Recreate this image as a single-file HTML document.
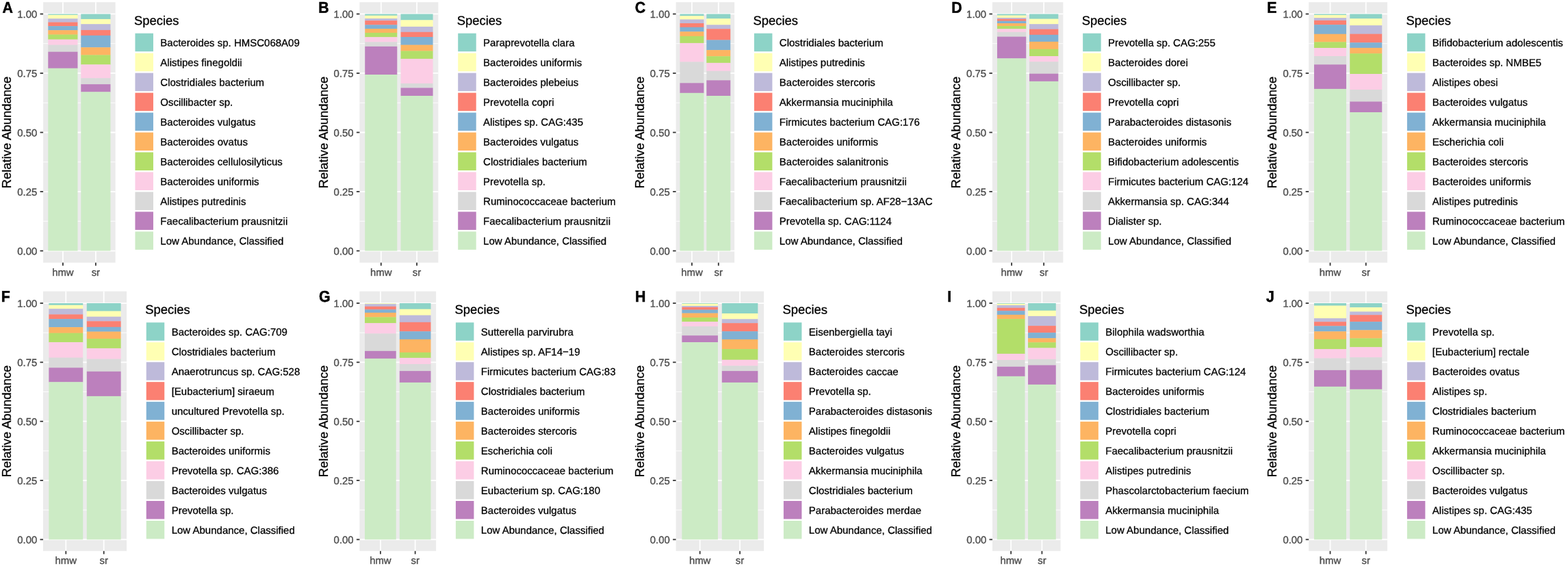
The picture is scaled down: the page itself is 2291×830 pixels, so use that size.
<!DOCTYPE html>
<html lang="en"><head><meta charset="utf-8"><title>Relative Abundance by Species</title>
<style>html,body{margin:0;padding:0;background:#fff}body{width:2291px;height:830px;overflow:hidden}svg{display:block}text{font-family:"Liberation Sans",Arial,Helvetica,sans-serif}.ax{font-size:14.9px;fill:#4D4D4D;stroke:#4D4D4D;stroke-width:0.35px}.tt{font-size:18.4px;fill:#000;stroke:#000;stroke-width:0.3px}.tg{font-size:23.0px;font-weight:bold;fill:#000;stroke:#000;stroke-width:0.5px}.lg{font-size:15.0px;fill:#000;stroke:#000;stroke-width:0.3px}.gM{stroke:#fff;stroke-width:1.78}.gm{stroke:#fff;stroke-width:0.89}.tk{stroke:#333;stroke-width:1.78}</style></head><body>
<svg width="2291" height="830" viewBox="0 0 2291 830">
<rect width="2291" height="830" fill="#fff"/>
<g id="panel-A">
<rect x="63.1" y="3.2" width="105.55" height="380.6" fill="#EBEBEB"/>
<line class="gm" x1="63.1" x2="168.65" y1="323.29" y2="323.29"/>
<line class="gm" x1="63.1" x2="168.65" y1="236.76" y2="236.76"/>
<line class="gm" x1="63.1" x2="168.65" y1="150.24" y2="150.24"/>
<line class="gm" x1="63.1" x2="168.65" y1="63.71" y2="63.71"/>
<line class="gM" x1="63.1" x2="168.65" y1="366.55" y2="366.55"/>
<line class="gM" x1="63.1" x2="168.65" y1="280.02" y2="280.02"/>
<line class="gM" x1="63.1" x2="168.65" y1="193.5" y2="193.5"/>
<line class="gM" x1="63.1" x2="168.65" y1="106.97" y2="106.97"/>
<line class="gM" x1="63.1" x2="168.65" y1="20.45" y2="20.45"/>
<line class="gM" x1="91.89" x2="91.89" y1="3.2" y2="383.8"/>
<line class="gM" x1="139.86" x2="139.86" y1="3.2" y2="383.8"/>
<rect x="70.3" y="20.45" width="43.18" height="1.65" fill="#8DD3C7"/>
<rect x="70.3" y="21.8" width="43.18" height="5.7" fill="#FFFFB3"/>
<rect x="70.3" y="27.2" width="43.18" height="5.6" fill="#BEBADA"/>
<rect x="70.3" y="32.5" width="43.18" height="5.9" fill="#FB8072"/>
<rect x="70.3" y="38.1" width="43.18" height="6.3" fill="#80B1D3"/>
<rect x="70.3" y="44.1" width="43.18" height="6.7" fill="#FDB462"/>
<rect x="70.3" y="50.5" width="43.18" height="7.4" fill="#B3DE69"/>
<rect x="70.3" y="57.6" width="43.18" height="8.3" fill="#FCCDE5"/>
<rect x="70.3" y="65.6" width="43.18" height="10.4" fill="#D9D9D9"/>
<rect x="70.3" y="75.7" width="43.18" height="24.3" fill="#BC80BD"/>
<rect x="70.3" y="99.7" width="43.18" height="266.85" fill="#CCEBC5"/>
<rect x="118.27" y="20.45" width="43.18" height="7.75" fill="#8DD3C7"/>
<rect x="118.27" y="27.9" width="43.18" height="7.6" fill="#FFFFB3"/>
<rect x="118.27" y="35.2" width="43.18" height="9" fill="#BEBADA"/>
<rect x="118.27" y="43.9" width="43.18" height="8.2" fill="#FB8072"/>
<rect x="118.27" y="51.8" width="43.18" height="17.7" fill="#80B1D3"/>
<rect x="118.27" y="69.2" width="43.18" height="11.5" fill="#FDB462"/>
<rect x="118.27" y="80.4" width="43.18" height="14.2" fill="#B3DE69"/>
<rect x="118.27" y="94.3" width="43.18" height="20.2" fill="#FCCDE5"/>
<rect x="118.27" y="114.2" width="43.18" height="9.2" fill="#D9D9D9"/>
<rect x="118.27" y="123.1" width="43.18" height="11.5" fill="#BC80BD"/>
<rect x="118.27" y="134.3" width="43.18" height="232.25" fill="#CCEBC5"/>
<line class="tk" x1="58.6" x2="63.1" y1="366.55" y2="366.55"/>
<text class="ax" text-anchor="end" transform="matrix(1,0.0005,0,1,54.3,372.2)">0.00</text>
<line class="tk" x1="58.6" x2="63.1" y1="280.02" y2="280.02"/>
<text class="ax" text-anchor="end" transform="matrix(1,0.0005,0,1,54.3,285.67)">0.25</text>
<line class="tk" x1="58.6" x2="63.1" y1="193.5" y2="193.5"/>
<text class="ax" text-anchor="end" transform="matrix(1,0.0005,0,1,54.3,199.15)">0.50</text>
<line class="tk" x1="58.6" x2="63.1" y1="106.97" y2="106.97"/>
<text class="ax" text-anchor="end" transform="matrix(1,0.0005,0,1,54.3,112.62)">0.75</text>
<line class="tk" x1="58.6" x2="63.1" y1="20.45" y2="20.45"/>
<text class="ax" text-anchor="end" transform="matrix(1,0.0005,0,1,54.3,26.1)">1.00</text>
<line class="tk" x1="91.89" x2="91.89" y1="383.8" y2="388.3"/>
<text class="ax" text-anchor="middle" transform="matrix(1,0.0005,0,1,91.89,403.1)">hmw</text>
<line class="tk" x1="139.86" x2="139.86" y1="383.8" y2="388.3"/>
<text class="ax" text-anchor="middle" transform="matrix(1,0.0005,0,1,139.86,403.1)">sr</text>
<text class="tt" text-anchor="middle" transform="translate(16.3,193.5) rotate(-90)">Relative Abundance</text>
<text class="tg" transform="matrix(0.93,0.0005,0,1,3.38,18.8)">A</text>
<text class="tt" transform="matrix(1,0.0005,0,1,196.05,36.3)">Species</text>
<rect x="197.45" y="48.7" width="26.5" height="26.5" fill="#8DD3C7"/>
<text class="lg" transform="matrix(1,0.0005,0,1,234.35,67.6)">Bacteroides sp. HMSC068A09</text>
<rect x="197.45" y="77.67" width="26.5" height="26.5" fill="#FFFFB3"/>
<text class="lg" transform="matrix(1,0.0005,0,1,234.35,96.57)">Alistipes finegoldii</text>
<rect x="197.45" y="106.64" width="26.5" height="26.5" fill="#BEBADA"/>
<text class="lg" transform="matrix(1,0.0005,0,1,234.35,125.54)">Clostridiales bacterium</text>
<rect x="197.45" y="135.61" width="26.5" height="26.5" fill="#FB8072"/>
<text class="lg" transform="matrix(1,0.0005,0,1,234.35,154.51)">Oscillibacter sp.</text>
<rect x="197.45" y="164.58" width="26.5" height="26.5" fill="#80B1D3"/>
<text class="lg" transform="matrix(1,0.0005,0,1,234.35,183.48)">Bacteroides vulgatus</text>
<rect x="197.45" y="193.55" width="26.5" height="26.5" fill="#FDB462"/>
<text class="lg" transform="matrix(1,0.0005,0,1,234.35,212.45)">Bacteroides ovatus</text>
<rect x="197.45" y="222.52" width="26.5" height="26.5" fill="#B3DE69"/>
<text class="lg" transform="matrix(1,0.0005,0,1,234.35,241.42)">Bacteroides cellulosilyticus</text>
<rect x="197.45" y="251.49" width="26.5" height="26.5" fill="#FCCDE5"/>
<text class="lg" transform="matrix(1,0.0005,0,1,234.35,270.39)">Bacteroides uniformis</text>
<rect x="197.45" y="280.46" width="26.5" height="26.5" fill="#D9D9D9"/>
<text class="lg" transform="matrix(1,0.0005,0,1,234.35,299.36)">Alistipes putredinis</text>
<rect x="197.45" y="309.43" width="26.5" height="26.5" fill="#BC80BD"/>
<text class="lg" transform="matrix(1,0.0005,0,1,234.35,328.33)">Faecalibacterium prausnitzii</text>
<rect x="197.45" y="338.4" width="26.5" height="26.5" fill="#CCEBC5"/>
<text class="lg" transform="matrix(1,0.0005,0,1,234.35,357.3)">Low Abundance, Classified</text>
</g>
<g id="panel-B">
<rect x="525.4" y="3.2" width="115" height="380.6" fill="#EBEBEB"/>
<line class="gm" x1="525.4" x2="640.4" y1="323.29" y2="323.29"/>
<line class="gm" x1="525.4" x2="640.4" y1="236.76" y2="236.76"/>
<line class="gm" x1="525.4" x2="640.4" y1="150.24" y2="150.24"/>
<line class="gm" x1="525.4" x2="640.4" y1="63.71" y2="63.71"/>
<line class="gM" x1="525.4" x2="640.4" y1="366.55" y2="366.55"/>
<line class="gM" x1="525.4" x2="640.4" y1="280.02" y2="280.02"/>
<line class="gM" x1="525.4" x2="640.4" y1="193.5" y2="193.5"/>
<line class="gM" x1="525.4" x2="640.4" y1="106.97" y2="106.97"/>
<line class="gM" x1="525.4" x2="640.4" y1="20.45" y2="20.45"/>
<line class="gM" x1="556.76" x2="556.76" y1="3.2" y2="383.8"/>
<line class="gM" x1="609.04" x2="609.04" y1="3.2" y2="383.8"/>
<rect x="533.24" y="20.45" width="47.05" height="2.55" fill="#8DD3C7"/>
<rect x="533.24" y="22.7" width="47.05" height="4.6" fill="#FFFFB3"/>
<rect x="533.24" y="27" width="47.05" height="3.4" fill="#BEBADA"/>
<rect x="533.24" y="30.1" width="47.05" height="6.5" fill="#FB8072"/>
<rect x="533.24" y="36.3" width="47.05" height="6" fill="#80B1D3"/>
<rect x="533.24" y="42" width="47.05" height="6.2" fill="#FDB462"/>
<rect x="533.24" y="47.9" width="47.05" height="6.6" fill="#B3DE69"/>
<rect x="533.24" y="54.2" width="47.05" height="7.45" fill="#FCCDE5"/>
<rect x="533.24" y="61.35" width="47.05" height="6.85" fill="#D9D9D9"/>
<rect x="533.24" y="67.9" width="47.05" height="41.4" fill="#BC80BD"/>
<rect x="533.24" y="109" width="47.05" height="257.55" fill="#CCEBC5"/>
<rect x="585.51" y="20.45" width="47.05" height="9.15" fill="#8DD3C7"/>
<rect x="585.51" y="29.3" width="47.05" height="9.9" fill="#FFFFB3"/>
<rect x="585.51" y="38.9" width="47.05" height="8.2" fill="#BEBADA"/>
<rect x="585.51" y="46.8" width="47.05" height="7.5" fill="#FB8072"/>
<rect x="585.51" y="54" width="47.05" height="11.9" fill="#80B1D3"/>
<rect x="585.51" y="65.6" width="47.05" height="9.1" fill="#FDB462"/>
<rect x="585.51" y="74.4" width="47.05" height="11.8" fill="#B3DE69"/>
<rect x="585.51" y="85.9" width="47.05" height="36.3" fill="#FCCDE5"/>
<rect x="585.51" y="121.9" width="47.05" height="6.8" fill="#D9D9D9"/>
<rect x="585.51" y="128.4" width="47.05" height="11.9" fill="#BC80BD"/>
<rect x="585.51" y="140" width="47.05" height="226.55" fill="#CCEBC5"/>
<line class="tk" x1="520.9" x2="525.4" y1="366.55" y2="366.55"/>
<text class="ax" text-anchor="end" transform="matrix(1,0.0005,0,1,516.6,372.2)">0.00</text>
<line class="tk" x1="520.9" x2="525.4" y1="280.02" y2="280.02"/>
<text class="ax" text-anchor="end" transform="matrix(1,0.0005,0,1,516.6,285.67)">0.25</text>
<line class="tk" x1="520.9" x2="525.4" y1="193.5" y2="193.5"/>
<text class="ax" text-anchor="end" transform="matrix(1,0.0005,0,1,516.6,199.15)">0.50</text>
<line class="tk" x1="520.9" x2="525.4" y1="106.97" y2="106.97"/>
<text class="ax" text-anchor="end" transform="matrix(1,0.0005,0,1,516.6,112.62)">0.75</text>
<line class="tk" x1="520.9" x2="525.4" y1="20.45" y2="20.45"/>
<text class="ax" text-anchor="end" transform="matrix(1,0.0005,0,1,516.6,26.1)">1.00</text>
<line class="tk" x1="556.76" x2="556.76" y1="383.8" y2="388.3"/>
<text class="ax" text-anchor="middle" transform="matrix(1,0.0005,0,1,556.76,403.1)">hmw</text>
<line class="tk" x1="609.04" x2="609.04" y1="383.8" y2="388.3"/>
<text class="ax" text-anchor="middle" transform="matrix(1,0.0005,0,1,609.04,403.1)">sr</text>
<text class="tt" text-anchor="middle" transform="translate(478.6,193.5) rotate(-90)">Relative Abundance</text>
<text class="tg" transform="matrix(0.93,0.0005,0,1,465.33,18.8)">B</text>
<text class="tt" transform="matrix(1,0.0005,0,1,667.8,36.3)">Species</text>
<rect x="669.2" y="48.7" width="26.5" height="26.5" fill="#8DD3C7"/>
<text class="lg" transform="matrix(1,0.0005,0,1,706.1,67.6)">Paraprevotella clara</text>
<rect x="669.2" y="77.67" width="26.5" height="26.5" fill="#FFFFB3"/>
<text class="lg" transform="matrix(1,0.0005,0,1,706.1,96.57)">Bacteroides uniformis</text>
<rect x="669.2" y="106.64" width="26.5" height="26.5" fill="#BEBADA"/>
<text class="lg" transform="matrix(1,0.0005,0,1,706.1,125.54)">Bacteroides plebeius</text>
<rect x="669.2" y="135.61" width="26.5" height="26.5" fill="#FB8072"/>
<text class="lg" transform="matrix(1,0.0005,0,1,706.1,154.51)">Prevotella copri</text>
<rect x="669.2" y="164.58" width="26.5" height="26.5" fill="#80B1D3"/>
<text class="lg" transform="matrix(1,0.0005,0,1,706.1,183.48)">Alistipes sp. CAG:435</text>
<rect x="669.2" y="193.55" width="26.5" height="26.5" fill="#FDB462"/>
<text class="lg" transform="matrix(1,0.0005,0,1,706.1,212.45)">Bacteroides vulgatus</text>
<rect x="669.2" y="222.52" width="26.5" height="26.5" fill="#B3DE69"/>
<text class="lg" transform="matrix(1,0.0005,0,1,706.1,241.42)">Clostridiales bacterium</text>
<rect x="669.2" y="251.49" width="26.5" height="26.5" fill="#FCCDE5"/>
<text class="lg" transform="matrix(1,0.0005,0,1,706.1,270.39)">Prevotella sp.</text>
<rect x="669.2" y="280.46" width="26.5" height="26.5" fill="#D9D9D9"/>
<text class="lg" transform="matrix(1,0.0005,0,1,706.1,299.36)">Ruminococcaceae bacterium</text>
<rect x="669.2" y="309.43" width="26.5" height="26.5" fill="#BC80BD"/>
<text class="lg" transform="matrix(1,0.0005,0,1,706.1,328.33)">Faecalibacterium prausnitzii</text>
<rect x="669.2" y="338.4" width="26.5" height="26.5" fill="#CCEBC5"/>
<text class="lg" transform="matrix(1,0.0005,0,1,706.1,357.3)">Low Abundance, Classified</text>
</g>
<g id="panel-C">
<rect x="987.6" y="3.2" width="85.5" height="380.6" fill="#EBEBEB"/>
<line class="gm" x1="987.6" x2="1073.1" y1="323.29" y2="323.29"/>
<line class="gm" x1="987.6" x2="1073.1" y1="236.76" y2="236.76"/>
<line class="gm" x1="987.6" x2="1073.1" y1="150.24" y2="150.24"/>
<line class="gm" x1="987.6" x2="1073.1" y1="63.71" y2="63.71"/>
<line class="gM" x1="987.6" x2="1073.1" y1="366.55" y2="366.55"/>
<line class="gM" x1="987.6" x2="1073.1" y1="280.02" y2="280.02"/>
<line class="gM" x1="987.6" x2="1073.1" y1="193.5" y2="193.5"/>
<line class="gM" x1="987.6" x2="1073.1" y1="106.97" y2="106.97"/>
<line class="gM" x1="987.6" x2="1073.1" y1="20.45" y2="20.45"/>
<line class="gM" x1="1010.92" x2="1010.92" y1="3.2" y2="383.8"/>
<line class="gM" x1="1049.78" x2="1049.78" y1="3.2" y2="383.8"/>
<rect x="993.43" y="20.45" width="34.98" height="3.15" fill="#8DD3C7"/>
<rect x="993.43" y="23.3" width="34.98" height="5.4" fill="#FFFFB3"/>
<rect x="993.43" y="28.4" width="34.98" height="5.9" fill="#BEBADA"/>
<rect x="993.43" y="34" width="34.98" height="6" fill="#FB8072"/>
<rect x="993.43" y="39.7" width="34.98" height="6.8" fill="#80B1D3"/>
<rect x="993.43" y="46.2" width="34.98" height="6.9" fill="#FDB462"/>
<rect x="993.43" y="52.8" width="34.98" height="10.4" fill="#B3DE69"/>
<rect x="993.43" y="62.9" width="34.98" height="27.8" fill="#FCCDE5"/>
<rect x="993.43" y="90.4" width="34.98" height="31.2" fill="#D9D9D9"/>
<rect x="993.43" y="121.3" width="34.98" height="14.8" fill="#BC80BD"/>
<rect x="993.43" y="135.8" width="34.98" height="230.75" fill="#CCEBC5"/>
<rect x="1032.29" y="20.45" width="34.98" height="7.05" fill="#8DD3C7"/>
<rect x="1032.29" y="27.2" width="34.98" height="9.4" fill="#FFFFB3"/>
<rect x="1032.29" y="36.3" width="34.98" height="6.2" fill="#BEBADA"/>
<rect x="1032.29" y="42.2" width="34.98" height="16.5" fill="#FB8072"/>
<rect x="1032.29" y="58.4" width="34.98" height="15" fill="#80B1D3"/>
<rect x="1032.29" y="73.1" width="34.98" height="9.4" fill="#FDB462"/>
<rect x="1032.29" y="82.2" width="34.98" height="9.95" fill="#B3DE69"/>
<rect x="1032.29" y="91.85" width="34.98" height="12.15" fill="#FCCDE5"/>
<rect x="1032.29" y="103.7" width="34.98" height="13.9" fill="#D9D9D9"/>
<rect x="1032.29" y="117.3" width="34.98" height="23" fill="#BC80BD"/>
<rect x="1032.29" y="140" width="34.98" height="226.55" fill="#CCEBC5"/>
<line class="tk" x1="983.1" x2="987.6" y1="366.55" y2="366.55"/>
<text class="ax" text-anchor="end" transform="matrix(1,0.0005,0,1,978.8,372.2)">0.00</text>
<line class="tk" x1="983.1" x2="987.6" y1="280.02" y2="280.02"/>
<text class="ax" text-anchor="end" transform="matrix(1,0.0005,0,1,978.8,285.67)">0.25</text>
<line class="tk" x1="983.1" x2="987.6" y1="193.5" y2="193.5"/>
<text class="ax" text-anchor="end" transform="matrix(1,0.0005,0,1,978.8,199.15)">0.50</text>
<line class="tk" x1="983.1" x2="987.6" y1="106.97" y2="106.97"/>
<text class="ax" text-anchor="end" transform="matrix(1,0.0005,0,1,978.8,112.62)">0.75</text>
<line class="tk" x1="983.1" x2="987.6" y1="20.45" y2="20.45"/>
<text class="ax" text-anchor="end" transform="matrix(1,0.0005,0,1,978.8,26.1)">1.00</text>
<line class="tk" x1="1010.92" x2="1010.92" y1="383.8" y2="388.3"/>
<text class="ax" text-anchor="middle" transform="matrix(1,0.0005,0,1,1010.92,403.1)">hmw</text>
<line class="tk" x1="1049.78" x2="1049.78" y1="383.8" y2="388.3"/>
<text class="ax" text-anchor="middle" transform="matrix(1,0.0005,0,1,1049.78,403.1)">sr</text>
<text class="tt" text-anchor="middle" transform="translate(940.8,193.5) rotate(-90)">Relative Abundance</text>
<text class="tg" transform="matrix(0.93,0.0005,0,1,927.68,18.8)">C</text>
<text class="tt" transform="matrix(1,0.0005,0,1,1100.5,36.3)">Species</text>
<rect x="1101.9" y="48.7" width="26.5" height="26.5" fill="#8DD3C7"/>
<text class="lg" transform="matrix(1,0.0005,0,1,1138.8,67.6)">Clostridiales bacterium</text>
<rect x="1101.9" y="77.67" width="26.5" height="26.5" fill="#FFFFB3"/>
<text class="lg" transform="matrix(1,0.0005,0,1,1138.8,96.57)">Alistipes putredinis</text>
<rect x="1101.9" y="106.64" width="26.5" height="26.5" fill="#BEBADA"/>
<text class="lg" transform="matrix(1,0.0005,0,1,1138.8,125.54)">Bacteroides stercoris</text>
<rect x="1101.9" y="135.61" width="26.5" height="26.5" fill="#FB8072"/>
<text class="lg" transform="matrix(1,0.0005,0,1,1138.8,154.51)">Akkermansia muciniphila</text>
<rect x="1101.9" y="164.58" width="26.5" height="26.5" fill="#80B1D3"/>
<text class="lg" transform="matrix(1,0.0005,0,1,1138.8,183.48)">Firmicutes bacterium CAG:176</text>
<rect x="1101.9" y="193.55" width="26.5" height="26.5" fill="#FDB462"/>
<text class="lg" transform="matrix(1,0.0005,0,1,1138.8,212.45)">Bacteroides uniformis</text>
<rect x="1101.9" y="222.52" width="26.5" height="26.5" fill="#B3DE69"/>
<text class="lg" transform="matrix(1,0.0005,0,1,1138.8,241.42)">Bacteroides salanitronis</text>
<rect x="1101.9" y="251.49" width="26.5" height="26.5" fill="#FCCDE5"/>
<text class="lg" transform="matrix(1,0.0005,0,1,1138.8,270.39)">Faecalibacterium prausnitzii</text>
<rect x="1101.9" y="280.46" width="26.5" height="26.5" fill="#D9D9D9"/>
<text class="lg" transform="matrix(1,0.0005,0,1,1138.8,299.36)">Faecalibacterium sp. AF28−13AC</text>
<rect x="1101.9" y="309.43" width="26.5" height="26.5" fill="#BC80BD"/>
<text class="lg" transform="matrix(1,0.0005,0,1,1138.8,328.33)">Prevotella sp. CAG:1124</text>
<rect x="1101.9" y="338.4" width="26.5" height="26.5" fill="#CCEBC5"/>
<text class="lg" transform="matrix(1,0.0005,0,1,1138.8,357.3)">Low Abundance, Classified</text>
</g>
<g id="panel-D">
<rect x="1449.9" y="3.2" width="103.45" height="380.6" fill="#EBEBEB"/>
<line class="gm" x1="1449.9" x2="1553.35" y1="323.29" y2="323.29"/>
<line class="gm" x1="1449.9" x2="1553.35" y1="236.76" y2="236.76"/>
<line class="gm" x1="1449.9" x2="1553.35" y1="150.24" y2="150.24"/>
<line class="gm" x1="1449.9" x2="1553.35" y1="63.71" y2="63.71"/>
<line class="gM" x1="1449.9" x2="1553.35" y1="366.55" y2="366.55"/>
<line class="gM" x1="1449.9" x2="1553.35" y1="280.02" y2="280.02"/>
<line class="gM" x1="1449.9" x2="1553.35" y1="193.5" y2="193.5"/>
<line class="gM" x1="1449.9" x2="1553.35" y1="106.97" y2="106.97"/>
<line class="gM" x1="1449.9" x2="1553.35" y1="20.45" y2="20.45"/>
<line class="gM" x1="1478.11" x2="1478.11" y1="3.2" y2="383.8"/>
<line class="gM" x1="1525.14" x2="1525.14" y1="3.2" y2="383.8"/>
<rect x="1456.95" y="20.45" width="42.32" height="2.35" fill="#8DD3C7"/>
<rect x="1456.95" y="22.5" width="42.32" height="3.7" fill="#FFFFB3"/>
<rect x="1456.95" y="25.9" width="42.32" height="2.2" fill="#BEBADA"/>
<rect x="1456.95" y="27.8" width="42.32" height="3.1" fill="#FB8072"/>
<rect x="1456.95" y="30.6" width="42.32" height="3.7" fill="#80B1D3"/>
<rect x="1456.95" y="34" width="42.32" height="4.3" fill="#FDB462"/>
<rect x="1456.95" y="38" width="42.32" height="4.5" fill="#B3DE69"/>
<rect x="1456.95" y="42.2" width="42.32" height="4.9" fill="#FCCDE5"/>
<rect x="1456.95" y="46.8" width="42.32" height="7.1" fill="#D9D9D9"/>
<rect x="1456.95" y="53.6" width="42.32" height="32" fill="#BC80BD"/>
<rect x="1456.95" y="85.3" width="42.32" height="281.25" fill="#CCEBC5"/>
<rect x="1503.98" y="20.45" width="42.32" height="7.45" fill="#8DD3C7"/>
<rect x="1503.98" y="27.6" width="42.32" height="7.9" fill="#FFFFB3"/>
<rect x="1503.98" y="35.2" width="42.32" height="7.7" fill="#BEBADA"/>
<rect x="1503.98" y="42.6" width="42.32" height="8.5" fill="#FB8072"/>
<rect x="1503.98" y="50.8" width="42.32" height="10.4" fill="#80B1D3"/>
<rect x="1503.98" y="60.9" width="42.32" height="11.2" fill="#FDB462"/>
<rect x="1503.98" y="71.8" width="42.32" height="10.5" fill="#B3DE69"/>
<rect x="1503.98" y="82" width="42.32" height="8.45" fill="#FCCDE5"/>
<rect x="1503.98" y="90.15" width="42.32" height="17.85" fill="#D9D9D9"/>
<rect x="1503.98" y="107.7" width="42.32" height="11.4" fill="#BC80BD"/>
<rect x="1503.98" y="118.8" width="42.32" height="247.75" fill="#CCEBC5"/>
<line class="tk" x1="1445.4" x2="1449.9" y1="366.55" y2="366.55"/>
<text class="ax" text-anchor="end" transform="matrix(1,0.0005,0,1,1441.1,372.2)">0.00</text>
<line class="tk" x1="1445.4" x2="1449.9" y1="280.02" y2="280.02"/>
<text class="ax" text-anchor="end" transform="matrix(1,0.0005,0,1,1441.1,285.67)">0.25</text>
<line class="tk" x1="1445.4" x2="1449.9" y1="193.5" y2="193.5"/>
<text class="ax" text-anchor="end" transform="matrix(1,0.0005,0,1,1441.1,199.15)">0.50</text>
<line class="tk" x1="1445.4" x2="1449.9" y1="106.97" y2="106.97"/>
<text class="ax" text-anchor="end" transform="matrix(1,0.0005,0,1,1441.1,112.62)">0.75</text>
<line class="tk" x1="1445.4" x2="1449.9" y1="20.45" y2="20.45"/>
<text class="ax" text-anchor="end" transform="matrix(1,0.0005,0,1,1441.1,26.1)">1.00</text>
<line class="tk" x1="1478.11" x2="1478.11" y1="383.8" y2="388.3"/>
<text class="ax" text-anchor="middle" transform="matrix(1,0.0005,0,1,1478.11,403.1)">hmw</text>
<line class="tk" x1="1525.14" x2="1525.14" y1="383.8" y2="388.3"/>
<text class="ax" text-anchor="middle" transform="matrix(1,0.0005,0,1,1525.14,403.1)">sr</text>
<text class="tt" text-anchor="middle" transform="translate(1403.1,193.5) rotate(-90)">Relative Abundance</text>
<text class="tg" transform="matrix(0.93,0.0005,0,1,1390.26,18.8)">D</text>
<text class="tt" transform="matrix(1,0.0005,0,1,1580.75,36.3)">Species</text>
<rect x="1582.15" y="48.7" width="26.5" height="26.5" fill="#8DD3C7"/>
<text class="lg" transform="matrix(1,0.0005,0,1,1619.05,67.6)">Prevotella sp. CAG:255</text>
<rect x="1582.15" y="77.67" width="26.5" height="26.5" fill="#FFFFB3"/>
<text class="lg" transform="matrix(1,0.0005,0,1,1619.05,96.57)">Bacteroides dorei</text>
<rect x="1582.15" y="106.64" width="26.5" height="26.5" fill="#BEBADA"/>
<text class="lg" transform="matrix(1,0.0005,0,1,1619.05,125.54)">Oscillibacter sp.</text>
<rect x="1582.15" y="135.61" width="26.5" height="26.5" fill="#FB8072"/>
<text class="lg" transform="matrix(1,0.0005,0,1,1619.05,154.51)">Prevotella copri</text>
<rect x="1582.15" y="164.58" width="26.5" height="26.5" fill="#80B1D3"/>
<text class="lg" transform="matrix(1,0.0005,0,1,1619.05,183.48)">Parabacteroides distasonis</text>
<rect x="1582.15" y="193.55" width="26.5" height="26.5" fill="#FDB462"/>
<text class="lg" transform="matrix(1,0.0005,0,1,1619.05,212.45)">Bacteroides uniformis</text>
<rect x="1582.15" y="222.52" width="26.5" height="26.5" fill="#B3DE69"/>
<text class="lg" transform="matrix(1,0.0005,0,1,1619.05,241.42)">Bifidobacterium adolescentis</text>
<rect x="1582.15" y="251.49" width="26.5" height="26.5" fill="#FCCDE5"/>
<text class="lg" transform="matrix(1,0.0005,0,1,1619.05,270.39)">Firmicutes bacterium CAG:124</text>
<rect x="1582.15" y="280.46" width="26.5" height="26.5" fill="#D9D9D9"/>
<text class="lg" transform="matrix(1,0.0005,0,1,1619.05,299.36)">Akkermansia sp. CAG:344</text>
<rect x="1582.15" y="309.43" width="26.5" height="26.5" fill="#BC80BD"/>
<text class="lg" transform="matrix(1,0.0005,0,1,1619.05,328.33)">Dialister sp.</text>
<rect x="1582.15" y="338.4" width="26.5" height="26.5" fill="#CCEBC5"/>
<text class="lg" transform="matrix(1,0.0005,0,1,1619.05,357.3)">Low Abundance, Classified</text>
</g>
<g id="panel-E">
<rect x="1912.2" y="3.2" width="114.9" height="380.6" fill="#EBEBEB"/>
<line class="gm" x1="1912.2" x2="2027.1" y1="323.29" y2="323.29"/>
<line class="gm" x1="1912.2" x2="2027.1" y1="236.76" y2="236.76"/>
<line class="gm" x1="1912.2" x2="2027.1" y1="150.24" y2="150.24"/>
<line class="gm" x1="1912.2" x2="2027.1" y1="63.71" y2="63.71"/>
<line class="gM" x1="1912.2" x2="2027.1" y1="366.55" y2="366.55"/>
<line class="gM" x1="1912.2" x2="2027.1" y1="280.02" y2="280.02"/>
<line class="gM" x1="1912.2" x2="2027.1" y1="193.5" y2="193.5"/>
<line class="gM" x1="1912.2" x2="2027.1" y1="106.97" y2="106.97"/>
<line class="gM" x1="1912.2" x2="2027.1" y1="20.45" y2="20.45"/>
<line class="gM" x1="1943.54" x2="1943.54" y1="3.2" y2="383.8"/>
<line class="gM" x1="1995.76" x2="1995.76" y1="3.2" y2="383.8"/>
<rect x="1920.03" y="20.45" width="47" height="1.75" fill="#8DD3C7"/>
<rect x="1920.03" y="21.9" width="47" height="4.5" fill="#FFFFB3"/>
<rect x="1920.03" y="26.1" width="47" height="4.05" fill="#BEBADA"/>
<rect x="1920.03" y="29.85" width="47" height="6.55" fill="#FB8072"/>
<rect x="1920.03" y="36.1" width="47" height="13.9" fill="#80B1D3"/>
<rect x="1920.03" y="49.7" width="47" height="12" fill="#FDB462"/>
<rect x="1920.03" y="61.4" width="47" height="8.9" fill="#B3DE69"/>
<rect x="1920.03" y="70" width="47" height="12.3" fill="#FCCDE5"/>
<rect x="1920.03" y="82" width="47" height="12.6" fill="#D9D9D9"/>
<rect x="1920.03" y="94.3" width="47" height="35.9" fill="#BC80BD"/>
<rect x="1920.03" y="129.9" width="47" height="236.65" fill="#CCEBC5"/>
<rect x="1972.26" y="20.45" width="47" height="7.05" fill="#8DD3C7"/>
<rect x="1972.26" y="27.2" width="47" height="10.2" fill="#FFFFB3"/>
<rect x="1972.26" y="37.1" width="47" height="12.8" fill="#BEBADA"/>
<rect x="1972.26" y="49.6" width="47" height="12.9" fill="#FB8072"/>
<rect x="1972.26" y="62.2" width="47" height="8" fill="#80B1D3"/>
<rect x="1972.26" y="69.9" width="47" height="8.55" fill="#FDB462"/>
<rect x="1972.26" y="78.15" width="47" height="30.15" fill="#B3DE69"/>
<rect x="1972.26" y="108" width="47" height="23.25" fill="#FCCDE5"/>
<rect x="1972.26" y="130.95" width="47" height="17.8" fill="#D9D9D9"/>
<rect x="1972.26" y="148.45" width="47" height="15.85" fill="#BC80BD"/>
<rect x="1972.26" y="164" width="47" height="202.55" fill="#CCEBC5"/>
<line class="tk" x1="1907.7" x2="1912.2" y1="366.55" y2="366.55"/>
<text class="ax" text-anchor="end" transform="matrix(1,0.0005,0,1,1903.4,372.2)">0.00</text>
<line class="tk" x1="1907.7" x2="1912.2" y1="280.02" y2="280.02"/>
<text class="ax" text-anchor="end" transform="matrix(1,0.0005,0,1,1903.4,285.67)">0.25</text>
<line class="tk" x1="1907.7" x2="1912.2" y1="193.5" y2="193.5"/>
<text class="ax" text-anchor="end" transform="matrix(1,0.0005,0,1,1903.4,199.15)">0.50</text>
<line class="tk" x1="1907.7" x2="1912.2" y1="106.97" y2="106.97"/>
<text class="ax" text-anchor="end" transform="matrix(1,0.0005,0,1,1903.4,112.62)">0.75</text>
<line class="tk" x1="1907.7" x2="1912.2" y1="20.45" y2="20.45"/>
<text class="ax" text-anchor="end" transform="matrix(1,0.0005,0,1,1903.4,26.1)">1.00</text>
<line class="tk" x1="1943.54" x2="1943.54" y1="383.8" y2="388.3"/>
<text class="ax" text-anchor="middle" transform="matrix(1,0.0005,0,1,1943.54,403.1)">hmw</text>
<line class="tk" x1="1995.76" x2="1995.76" y1="383.8" y2="388.3"/>
<text class="ax" text-anchor="middle" transform="matrix(1,0.0005,0,1,1995.76,403.1)">sr</text>
<text class="tt" text-anchor="middle" transform="translate(1865.4,193.5) rotate(-90)">Relative Abundance</text>
<text class="tg" transform="matrix(0.93,0.0005,0,1,1851.29,18.8)">E</text>
<text class="tt" transform="matrix(1,0.0005,0,1,2054.5,36.3)">Species</text>
<rect x="2055.9" y="48.7" width="26.5" height="26.5" fill="#8DD3C7"/>
<text class="lg" transform="matrix(1,0.0005,0,1,2092.8,67.6)">Bifidobacterium adolescentis</text>
<rect x="2055.9" y="77.67" width="26.5" height="26.5" fill="#FFFFB3"/>
<text class="lg" transform="matrix(1,0.0005,0,1,2092.8,96.57)">Bacteroides sp. NMBE5</text>
<rect x="2055.9" y="106.64" width="26.5" height="26.5" fill="#BEBADA"/>
<text class="lg" transform="matrix(1,0.0005,0,1,2092.8,125.54)">Alistipes obesi</text>
<rect x="2055.9" y="135.61" width="26.5" height="26.5" fill="#FB8072"/>
<text class="lg" transform="matrix(1,0.0005,0,1,2092.8,154.51)">Bacteroides vulgatus</text>
<rect x="2055.9" y="164.58" width="26.5" height="26.5" fill="#80B1D3"/>
<text class="lg" transform="matrix(1,0.0005,0,1,2092.8,183.48)">Akkermansia muciniphila</text>
<rect x="2055.9" y="193.55" width="26.5" height="26.5" fill="#FDB462"/>
<text class="lg" transform="matrix(1,0.0005,0,1,2092.8,212.45)">Escherichia coli</text>
<rect x="2055.9" y="222.52" width="26.5" height="26.5" fill="#B3DE69"/>
<text class="lg" transform="matrix(1,0.0005,0,1,2092.8,241.42)">Bacteroides stercoris</text>
<rect x="2055.9" y="251.49" width="26.5" height="26.5" fill="#FCCDE5"/>
<text class="lg" transform="matrix(1,0.0005,0,1,2092.8,270.39)">Bacteroides uniformis</text>
<rect x="2055.9" y="280.46" width="26.5" height="26.5" fill="#D9D9D9"/>
<text class="lg" transform="matrix(1,0.0005,0,1,2092.8,299.36)">Alistipes putredinis</text>
<rect x="2055.9" y="309.43" width="26.5" height="26.5" fill="#BC80BD"/>
<text class="lg" transform="matrix(1,0.0005,0,1,2092.8,328.33)">Ruminococcaceae bacterium</text>
<rect x="2055.9" y="338.4" width="26.5" height="26.5" fill="#CCEBC5"/>
<text class="lg" transform="matrix(1,0.0005,0,1,2092.8,357.3)">Low Abundance, Classified</text>
</g>
<g id="panel-F">
<rect x="63.05" y="425.7" width="121.9" height="379.5" fill="#EBEBEB"/>
<line class="gm" x1="63.05" x2="184.95" y1="745.23" y2="745.23"/>
<line class="gm" x1="63.05" x2="184.95" y1="658.89" y2="658.89"/>
<line class="gm" x1="63.05" x2="184.95" y1="572.56" y2="572.56"/>
<line class="gm" x1="63.05" x2="184.95" y1="486.22" y2="486.22"/>
<line class="gM" x1="63.05" x2="184.95" y1="788.4" y2="788.4"/>
<line class="gM" x1="63.05" x2="184.95" y1="702.06" y2="702.06"/>
<line class="gM" x1="63.05" x2="184.95" y1="615.73" y2="615.73"/>
<line class="gM" x1="63.05" x2="184.95" y1="529.39" y2="529.39"/>
<line class="gM" x1="63.05" x2="184.95" y1="443.05" y2="443.05"/>
<line class="gM" x1="96.3" x2="96.3" y1="425.7" y2="805.2"/>
<line class="gM" x1="151.7" x2="151.7" y1="425.7" y2="805.2"/>
<rect x="71.36" y="443.05" width="49.87" height="3.05" fill="#8DD3C7"/>
<rect x="71.36" y="445.8" width="49.87" height="5.7" fill="#FFFFB3"/>
<rect x="71.36" y="451.2" width="49.87" height="8.5" fill="#BEBADA"/>
<rect x="71.36" y="459.4" width="49.87" height="7" fill="#FB8072"/>
<rect x="71.36" y="466.1" width="49.87" height="12.3" fill="#80B1D3"/>
<rect x="71.36" y="478.1" width="49.87" height="8.85" fill="#FDB462"/>
<rect x="71.36" y="486.65" width="49.87" height="13.7" fill="#B3DE69"/>
<rect x="71.36" y="500.05" width="49.87" height="22.85" fill="#FCCDE5"/>
<rect x="71.36" y="522.6" width="49.87" height="15" fill="#D9D9D9"/>
<rect x="71.36" y="537.3" width="49.87" height="21.25" fill="#BC80BD"/>
<rect x="71.36" y="558.25" width="49.87" height="230.15" fill="#CCEBC5"/>
<rect x="126.77" y="443.05" width="49.87" height="11.85" fill="#8DD3C7"/>
<rect x="126.77" y="454.6" width="49.87" height="8.4" fill="#FFFFB3"/>
<rect x="126.77" y="462.7" width="49.87" height="6.9" fill="#BEBADA"/>
<rect x="126.77" y="469.3" width="49.87" height="8.8" fill="#FB8072"/>
<rect x="126.77" y="477.8" width="49.87" height="7.05" fill="#80B1D3"/>
<rect x="126.77" y="484.55" width="49.87" height="10.7" fill="#FDB462"/>
<rect x="126.77" y="494.95" width="49.87" height="14.25" fill="#B3DE69"/>
<rect x="126.77" y="508.9" width="49.87" height="15.9" fill="#FCCDE5"/>
<rect x="126.77" y="524.5" width="49.87" height="18.6" fill="#D9D9D9"/>
<rect x="126.77" y="542.8" width="49.87" height="36.4" fill="#BC80BD"/>
<rect x="126.77" y="578.9" width="49.87" height="209.5" fill="#CCEBC5"/>
<line class="tk" x1="58.55" x2="63.05" y1="788.4" y2="788.4"/>
<text class="ax" text-anchor="end" transform="matrix(1,0.0005,0,1,54.25,794.05)">0.00</text>
<line class="tk" x1="58.55" x2="63.05" y1="702.06" y2="702.06"/>
<text class="ax" text-anchor="end" transform="matrix(1,0.0005,0,1,54.25,707.71)">0.25</text>
<line class="tk" x1="58.55" x2="63.05" y1="615.73" y2="615.73"/>
<text class="ax" text-anchor="end" transform="matrix(1,0.0005,0,1,54.25,621.38)">0.50</text>
<line class="tk" x1="58.55" x2="63.05" y1="529.39" y2="529.39"/>
<text class="ax" text-anchor="end" transform="matrix(1,0.0005,0,1,54.25,535.04)">0.75</text>
<line class="tk" x1="58.55" x2="63.05" y1="443.05" y2="443.05"/>
<text class="ax" text-anchor="end" transform="matrix(1,0.0005,0,1,54.25,448.7)">1.00</text>
<line class="tk" x1="96.3" x2="96.3" y1="805.2" y2="809.7"/>
<text class="ax" text-anchor="middle" transform="matrix(1,0.0005,0,1,96.3,824.1)">hmw</text>
<line class="tk" x1="151.7" x2="151.7" y1="805.2" y2="809.7"/>
<text class="ax" text-anchor="middle" transform="matrix(1,0.0005,0,1,151.7,824.1)">sr</text>
<text class="tt" text-anchor="middle" transform="translate(16.25,615.45) rotate(-90)">Relative Abundance</text>
<text class="tg" transform="matrix(0.93,0.0005,0,1,1.63,441.1)">F</text>
<text class="tt" transform="matrix(1,0.0005,0,1,212.35,458.6)">Species</text>
<rect x="213.75" y="471.25" width="26.5" height="26.5" fill="#8DD3C7"/>
<text class="lg" transform="matrix(1,0.0005,0,1,250.65,490.15)">Bacteroides sp. CAG:709</text>
<rect x="213.75" y="500.22" width="26.5" height="26.5" fill="#FFFFB3"/>
<text class="lg" transform="matrix(1,0.0005,0,1,250.65,519.12)">Clostridiales bacterium</text>
<rect x="213.75" y="529.19" width="26.5" height="26.5" fill="#BEBADA"/>
<text class="lg" transform="matrix(1,0.0005,0,1,250.65,548.09)">Anaerotruncus sp. CAG:528</text>
<rect x="213.75" y="558.16" width="26.5" height="26.5" fill="#FB8072"/>
<text class="lg" transform="matrix(1,0.0005,0,1,250.65,577.06)">[Eubacterium] siraeum</text>
<rect x="213.75" y="587.13" width="26.5" height="26.5" fill="#80B1D3"/>
<text class="lg" transform="matrix(1,0.0005,0,1,250.65,606.03)">uncultured Prevotella sp.</text>
<rect x="213.75" y="616.1" width="26.5" height="26.5" fill="#FDB462"/>
<text class="lg" transform="matrix(1,0.0005,0,1,250.65,635)">Oscillibacter sp.</text>
<rect x="213.75" y="645.07" width="26.5" height="26.5" fill="#B3DE69"/>
<text class="lg" transform="matrix(1,0.0005,0,1,250.65,663.97)">Bacteroides uniformis</text>
<rect x="213.75" y="674.04" width="26.5" height="26.5" fill="#FCCDE5"/>
<text class="lg" transform="matrix(1,0.0005,0,1,250.65,692.94)">Prevotella sp. CAG:386</text>
<rect x="213.75" y="703.01" width="26.5" height="26.5" fill="#D9D9D9"/>
<text class="lg" transform="matrix(1,0.0005,0,1,250.65,721.91)">Bacteroides vulgatus</text>
<rect x="213.75" y="731.98" width="26.5" height="26.5" fill="#BC80BD"/>
<text class="lg" transform="matrix(1,0.0005,0,1,250.65,750.88)">Prevotella sp.</text>
<rect x="213.75" y="760.95" width="26.5" height="26.5" fill="#CCEBC5"/>
<text class="lg" transform="matrix(1,0.0005,0,1,250.65,779.85)">Low Abundance, Classified</text>
</g>
<g id="panel-G">
<rect x="525.4" y="425.7" width="111.7" height="379.5" fill="#EBEBEB"/>
<line class="gm" x1="525.4" x2="637.1" y1="745.23" y2="745.23"/>
<line class="gm" x1="525.4" x2="637.1" y1="658.89" y2="658.89"/>
<line class="gm" x1="525.4" x2="637.1" y1="572.56" y2="572.56"/>
<line class="gm" x1="525.4" x2="637.1" y1="486.22" y2="486.22"/>
<line class="gM" x1="525.4" x2="637.1" y1="788.4" y2="788.4"/>
<line class="gM" x1="525.4" x2="637.1" y1="702.06" y2="702.06"/>
<line class="gM" x1="525.4" x2="637.1" y1="615.73" y2="615.73"/>
<line class="gM" x1="525.4" x2="637.1" y1="529.39" y2="529.39"/>
<line class="gM" x1="525.4" x2="637.1" y1="443.05" y2="443.05"/>
<line class="gM" x1="555.86" x2="555.86" y1="425.7" y2="805.2"/>
<line class="gM" x1="606.64" x2="606.64" y1="425.7" y2="805.2"/>
<rect x="533.02" y="443.05" width="45.7" height="0.45" fill="#8DD3C7"/>
<rect x="533.02" y="443.2" width="45.7" height="1.3" fill="#FFFFB3"/>
<rect x="533.02" y="444.2" width="45.7" height="3.9" fill="#BEBADA"/>
<rect x="533.02" y="447.8" width="45.7" height="4.8" fill="#FB8072"/>
<rect x="533.02" y="452.3" width="45.7" height="4.9" fill="#80B1D3"/>
<rect x="533.02" y="456.9" width="45.7" height="6.8" fill="#FDB462"/>
<rect x="533.02" y="463.4" width="45.7" height="9.05" fill="#B3DE69"/>
<rect x="533.02" y="472.15" width="45.7" height="15.6" fill="#FCCDE5"/>
<rect x="533.02" y="487.45" width="45.7" height="25.75" fill="#D9D9D9"/>
<rect x="533.02" y="512.9" width="45.7" height="11.3" fill="#BC80BD"/>
<rect x="533.02" y="523.9" width="45.7" height="264.5" fill="#CCEBC5"/>
<rect x="583.79" y="443.05" width="45.7" height="8.95" fill="#8DD3C7"/>
<rect x="583.79" y="451.7" width="45.7" height="9.2" fill="#FFFFB3"/>
<rect x="583.79" y="460.6" width="45.7" height="10.5" fill="#BEBADA"/>
<rect x="583.79" y="470.8" width="45.7" height="13.7" fill="#FB8072"/>
<rect x="583.79" y="484.2" width="45.7" height="11.95" fill="#80B1D3"/>
<rect x="583.79" y="495.85" width="45.7" height="19.45" fill="#FDB462"/>
<rect x="583.79" y="515" width="45.7" height="8.2" fill="#B3DE69"/>
<rect x="583.79" y="522.9" width="45.7" height="9.4" fill="#FCCDE5"/>
<rect x="583.79" y="532" width="45.7" height="10.4" fill="#D9D9D9"/>
<rect x="583.79" y="542.1" width="45.7" height="17.1" fill="#BC80BD"/>
<rect x="583.79" y="558.9" width="45.7" height="229.5" fill="#CCEBC5"/>
<line class="tk" x1="520.9" x2="525.4" y1="788.4" y2="788.4"/>
<text class="ax" text-anchor="end" transform="matrix(1,0.0005,0,1,516.6,794.05)">0.00</text>
<line class="tk" x1="520.9" x2="525.4" y1="702.06" y2="702.06"/>
<text class="ax" text-anchor="end" transform="matrix(1,0.0005,0,1,516.6,707.71)">0.25</text>
<line class="tk" x1="520.9" x2="525.4" y1="615.73" y2="615.73"/>
<text class="ax" text-anchor="end" transform="matrix(1,0.0005,0,1,516.6,621.38)">0.50</text>
<line class="tk" x1="520.9" x2="525.4" y1="529.39" y2="529.39"/>
<text class="ax" text-anchor="end" transform="matrix(1,0.0005,0,1,516.6,535.04)">0.75</text>
<line class="tk" x1="520.9" x2="525.4" y1="443.05" y2="443.05"/>
<text class="ax" text-anchor="end" transform="matrix(1,0.0005,0,1,516.6,448.7)">1.00</text>
<line class="tk" x1="555.86" x2="555.86" y1="805.2" y2="809.7"/>
<text class="ax" text-anchor="middle" transform="matrix(1,0.0005,0,1,555.86,824.1)">hmw</text>
<line class="tk" x1="606.64" x2="606.64" y1="805.2" y2="809.7"/>
<text class="ax" text-anchor="middle" transform="matrix(1,0.0005,0,1,606.64,824.1)">sr</text>
<text class="tt" text-anchor="middle" transform="translate(478.6,615.45) rotate(-90)">Relative Abundance</text>
<text class="tg" transform="matrix(0.93,0.0005,0,1,466.07,441.1)">G</text>
<text class="tt" transform="matrix(1,0.0005,0,1,664.5,458.6)">Species</text>
<rect x="665.9" y="471.25" width="26.5" height="26.5" fill="#8DD3C7"/>
<text class="lg" transform="matrix(1,0.0005,0,1,702.8,490.15)">Sutterella parvirubra</text>
<rect x="665.9" y="500.22" width="26.5" height="26.5" fill="#FFFFB3"/>
<text class="lg" transform="matrix(1,0.0005,0,1,702.8,519.12)">Alistipes sp. AF14−19</text>
<rect x="665.9" y="529.19" width="26.5" height="26.5" fill="#BEBADA"/>
<text class="lg" transform="matrix(1,0.0005,0,1,702.8,548.09)">Firmicutes bacterium CAG:83</text>
<rect x="665.9" y="558.16" width="26.5" height="26.5" fill="#FB8072"/>
<text class="lg" transform="matrix(1,0.0005,0,1,702.8,577.06)">Clostridiales bacterium</text>
<rect x="665.9" y="587.13" width="26.5" height="26.5" fill="#80B1D3"/>
<text class="lg" transform="matrix(1,0.0005,0,1,702.8,606.03)">Bacteroides uniformis</text>
<rect x="665.9" y="616.1" width="26.5" height="26.5" fill="#FDB462"/>
<text class="lg" transform="matrix(1,0.0005,0,1,702.8,635)">Bacteroides stercoris</text>
<rect x="665.9" y="645.07" width="26.5" height="26.5" fill="#B3DE69"/>
<text class="lg" transform="matrix(1,0.0005,0,1,702.8,663.97)">Escherichia coli</text>
<rect x="665.9" y="674.04" width="26.5" height="26.5" fill="#FCCDE5"/>
<text class="lg" transform="matrix(1,0.0005,0,1,702.8,692.94)">Ruminococcaceae bacterium</text>
<rect x="665.9" y="703.01" width="26.5" height="26.5" fill="#D9D9D9"/>
<text class="lg" transform="matrix(1,0.0005,0,1,702.8,721.91)">Eubacterium sp. CAG:180</text>
<rect x="665.9" y="731.98" width="26.5" height="26.5" fill="#BC80BD"/>
<text class="lg" transform="matrix(1,0.0005,0,1,702.8,750.88)">Bacteroides vulgatus</text>
<rect x="665.9" y="760.95" width="26.5" height="26.5" fill="#CCEBC5"/>
<text class="lg" transform="matrix(1,0.0005,0,1,702.8,779.85)">Low Abundance, Classified</text>
</g>
<g id="panel-H">
<rect x="987.6" y="425.7" width="128.5" height="379.5" fill="#EBEBEB"/>
<line class="gm" x1="987.6" x2="1116.1" y1="745.23" y2="745.23"/>
<line class="gm" x1="987.6" x2="1116.1" y1="658.89" y2="658.89"/>
<line class="gm" x1="987.6" x2="1116.1" y1="572.56" y2="572.56"/>
<line class="gm" x1="987.6" x2="1116.1" y1="486.22" y2="486.22"/>
<line class="gM" x1="987.6" x2="1116.1" y1="788.4" y2="788.4"/>
<line class="gM" x1="987.6" x2="1116.1" y1="702.06" y2="702.06"/>
<line class="gM" x1="987.6" x2="1116.1" y1="615.73" y2="615.73"/>
<line class="gM" x1="987.6" x2="1116.1" y1="529.39" y2="529.39"/>
<line class="gM" x1="987.6" x2="1116.1" y1="443.05" y2="443.05"/>
<line class="gM" x1="1022.65" x2="1022.65" y1="425.7" y2="805.2"/>
<line class="gM" x1="1081.05" x2="1081.05" y1="425.7" y2="805.2"/>
<rect x="996.36" y="443.05" width="52.57" height="1.05" fill="#8DD3C7"/>
<rect x="996.36" y="443.8" width="52.57" height="3.5" fill="#FFFFB3"/>
<rect x="996.36" y="447" width="52.57" height="2.2" fill="#BEBADA"/>
<rect x="996.36" y="448.9" width="52.57" height="4" fill="#FB8072"/>
<rect x="996.36" y="452.6" width="52.57" height="5.3" fill="#80B1D3"/>
<rect x="996.36" y="457.6" width="52.57" height="6.7" fill="#FDB462"/>
<rect x="996.36" y="464" width="52.57" height="6.4" fill="#B3DE69"/>
<rect x="996.36" y="470.1" width="52.57" height="7.1" fill="#FCCDE5"/>
<rect x="996.36" y="476.9" width="52.57" height="13.65" fill="#D9D9D9"/>
<rect x="996.36" y="490.25" width="52.57" height="10.15" fill="#BC80BD"/>
<rect x="996.36" y="500.1" width="52.57" height="288.3" fill="#CCEBC5"/>
<rect x="1054.77" y="443.05" width="52.57" height="15.25" fill="#8DD3C7"/>
<rect x="1054.77" y="458" width="52.57" height="8.55" fill="#FFFFB3"/>
<rect x="1054.77" y="466.25" width="52.57" height="6.2" fill="#BEBADA"/>
<rect x="1054.77" y="472.15" width="52.57" height="12.3" fill="#FB8072"/>
<rect x="1054.77" y="484.15" width="52.57" height="12.1" fill="#80B1D3"/>
<rect x="1054.77" y="495.95" width="52.57" height="14.45" fill="#FDB462"/>
<rect x="1054.77" y="510.1" width="52.57" height="15.9" fill="#B3DE69"/>
<rect x="1054.77" y="525.7" width="52.57" height="9.1" fill="#FCCDE5"/>
<rect x="1054.77" y="534.5" width="52.57" height="7.9" fill="#D9D9D9"/>
<rect x="1054.77" y="542.1" width="52.57" height="17.1" fill="#BC80BD"/>
<rect x="1054.77" y="558.9" width="52.57" height="229.5" fill="#CCEBC5"/>
<line class="tk" x1="983.1" x2="987.6" y1="788.4" y2="788.4"/>
<text class="ax" text-anchor="end" transform="matrix(1,0.0005,0,1,978.8,794.05)">0.00</text>
<line class="tk" x1="983.1" x2="987.6" y1="702.06" y2="702.06"/>
<text class="ax" text-anchor="end" transform="matrix(1,0.0005,0,1,978.8,707.71)">0.25</text>
<line class="tk" x1="983.1" x2="987.6" y1="615.73" y2="615.73"/>
<text class="ax" text-anchor="end" transform="matrix(1,0.0005,0,1,978.8,621.38)">0.50</text>
<line class="tk" x1="983.1" x2="987.6" y1="529.39" y2="529.39"/>
<text class="ax" text-anchor="end" transform="matrix(1,0.0005,0,1,978.8,535.04)">0.75</text>
<line class="tk" x1="983.1" x2="987.6" y1="443.05" y2="443.05"/>
<text class="ax" text-anchor="end" transform="matrix(1,0.0005,0,1,978.8,448.7)">1.00</text>
<line class="tk" x1="1022.65" x2="1022.65" y1="805.2" y2="809.7"/>
<text class="ax" text-anchor="middle" transform="matrix(1,0.0005,0,1,1022.65,824.1)">hmw</text>
<line class="tk" x1="1081.05" x2="1081.05" y1="805.2" y2="809.7"/>
<text class="ax" text-anchor="middle" transform="matrix(1,0.0005,0,1,1081.05,824.1)">sr</text>
<text class="tt" text-anchor="middle" transform="translate(940.8,615.45) rotate(-90)">Relative Abundance</text>
<text class="tg" transform="matrix(0.93,0.0005,0,1,927.96,441.1)">H</text>
<text class="tt" transform="matrix(1,0.0005,0,1,1143.5,458.6)">Species</text>
<rect x="1144.9" y="471.25" width="26.5" height="26.5" fill="#8DD3C7"/>
<text class="lg" transform="matrix(1,0.0005,0,1,1181.8,490.15)">Eisenbergiella tayi</text>
<rect x="1144.9" y="500.22" width="26.5" height="26.5" fill="#FFFFB3"/>
<text class="lg" transform="matrix(1,0.0005,0,1,1181.8,519.12)">Bacteroides stercoris</text>
<rect x="1144.9" y="529.19" width="26.5" height="26.5" fill="#BEBADA"/>
<text class="lg" transform="matrix(1,0.0005,0,1,1181.8,548.09)">Bacteroides caccae</text>
<rect x="1144.9" y="558.16" width="26.5" height="26.5" fill="#FB8072"/>
<text class="lg" transform="matrix(1,0.0005,0,1,1181.8,577.06)">Prevotella sp.</text>
<rect x="1144.9" y="587.13" width="26.5" height="26.5" fill="#80B1D3"/>
<text class="lg" transform="matrix(1,0.0005,0,1,1181.8,606.03)">Parabacteroides distasonis</text>
<rect x="1144.9" y="616.1" width="26.5" height="26.5" fill="#FDB462"/>
<text class="lg" transform="matrix(1,0.0005,0,1,1181.8,635)">Alistipes finegoldii</text>
<rect x="1144.9" y="645.07" width="26.5" height="26.5" fill="#B3DE69"/>
<text class="lg" transform="matrix(1,0.0005,0,1,1181.8,663.97)">Bacteroides vulgatus</text>
<rect x="1144.9" y="674.04" width="26.5" height="26.5" fill="#FCCDE5"/>
<text class="lg" transform="matrix(1,0.0005,0,1,1181.8,692.94)">Akkermansia muciniphila</text>
<rect x="1144.9" y="703.01" width="26.5" height="26.5" fill="#D9D9D9"/>
<text class="lg" transform="matrix(1,0.0005,0,1,1181.8,721.91)">Clostridiales bacterium</text>
<rect x="1144.9" y="731.98" width="26.5" height="26.5" fill="#BC80BD"/>
<text class="lg" transform="matrix(1,0.0005,0,1,1181.8,750.88)">Parabacteroides merdae</text>
<rect x="1144.9" y="760.95" width="26.5" height="26.5" fill="#CCEBC5"/>
<text class="lg" transform="matrix(1,0.0005,0,1,1181.8,779.85)">Low Abundance, Classified</text>
</g>
<g id="panel-I">
<rect x="1450" y="425.7" width="99.55" height="379.5" fill="#EBEBEB"/>
<line class="gm" x1="1450" x2="1549.55" y1="745.23" y2="745.23"/>
<line class="gm" x1="1450" x2="1549.55" y1="658.89" y2="658.89"/>
<line class="gm" x1="1450" x2="1549.55" y1="572.56" y2="572.56"/>
<line class="gm" x1="1450" x2="1549.55" y1="486.22" y2="486.22"/>
<line class="gM" x1="1450" x2="1549.55" y1="788.4" y2="788.4"/>
<line class="gM" x1="1450" x2="1549.55" y1="702.06" y2="702.06"/>
<line class="gM" x1="1450" x2="1549.55" y1="615.73" y2="615.73"/>
<line class="gM" x1="1450" x2="1549.55" y1="529.39" y2="529.39"/>
<line class="gM" x1="1450" x2="1549.55" y1="443.05" y2="443.05"/>
<line class="gM" x1="1477.15" x2="1477.15" y1="425.7" y2="805.2"/>
<line class="gM" x1="1522.4" x2="1522.4" y1="425.7" y2="805.2"/>
<rect x="1456.79" y="443.05" width="40.72" height="1.05" fill="#8DD3C7"/>
<rect x="1456.79" y="443.8" width="40.72" height="2.5" fill="#FFFFB3"/>
<rect x="1456.79" y="446" width="40.72" height="4.1" fill="#BEBADA"/>
<rect x="1456.79" y="449.8" width="40.72" height="4.7" fill="#FB8072"/>
<rect x="1456.79" y="454.2" width="40.72" height="6" fill="#80B1D3"/>
<rect x="1456.79" y="459.9" width="40.72" height="6.5" fill="#FDB462"/>
<rect x="1456.79" y="466.1" width="40.72" height="51.1" fill="#B3DE69"/>
<rect x="1456.79" y="516.9" width="40.72" height="9.4" fill="#FCCDE5"/>
<rect x="1456.79" y="526" width="40.72" height="10.1" fill="#D9D9D9"/>
<rect x="1456.79" y="535.8" width="40.72" height="14.3" fill="#BC80BD"/>
<rect x="1456.79" y="549.8" width="40.72" height="238.6" fill="#CCEBC5"/>
<rect x="1502.04" y="443.05" width="40.72" height="11.05" fill="#8DD3C7"/>
<rect x="1502.04" y="453.8" width="40.72" height="8.4" fill="#FFFFB3"/>
<rect x="1502.04" y="461.9" width="40.72" height="14.5" fill="#BEBADA"/>
<rect x="1502.04" y="476.1" width="40.72" height="10.3" fill="#FB8072"/>
<rect x="1502.04" y="486.1" width="40.72" height="8.35" fill="#80B1D3"/>
<rect x="1502.04" y="494.15" width="40.72" height="6.5" fill="#FDB462"/>
<rect x="1502.04" y="500.35" width="40.72" height="8.35" fill="#B3DE69"/>
<rect x="1502.04" y="508.4" width="40.72" height="16.7" fill="#FCCDE5"/>
<rect x="1502.04" y="524.8" width="40.72" height="9.1" fill="#D9D9D9"/>
<rect x="1502.04" y="533.6" width="40.72" height="28.6" fill="#BC80BD"/>
<rect x="1502.04" y="561.9" width="40.72" height="226.5" fill="#CCEBC5"/>
<line class="tk" x1="1445.5" x2="1450" y1="788.4" y2="788.4"/>
<text class="ax" text-anchor="end" transform="matrix(1,0.0005,0,1,1441.2,794.05)">0.00</text>
<line class="tk" x1="1445.5" x2="1450" y1="702.06" y2="702.06"/>
<text class="ax" text-anchor="end" transform="matrix(1,0.0005,0,1,1441.2,707.71)">0.25</text>
<line class="tk" x1="1445.5" x2="1450" y1="615.73" y2="615.73"/>
<text class="ax" text-anchor="end" transform="matrix(1,0.0005,0,1,1441.2,621.38)">0.50</text>
<line class="tk" x1="1445.5" x2="1450" y1="529.39" y2="529.39"/>
<text class="ax" text-anchor="end" transform="matrix(1,0.0005,0,1,1441.2,535.04)">0.75</text>
<line class="tk" x1="1445.5" x2="1450" y1="443.05" y2="443.05"/>
<text class="ax" text-anchor="end" transform="matrix(1,0.0005,0,1,1441.2,448.7)">1.00</text>
<line class="tk" x1="1477.15" x2="1477.15" y1="805.2" y2="809.7"/>
<text class="ax" text-anchor="middle" transform="matrix(1,0.0005,0,1,1477.15,824.1)">hmw</text>
<line class="tk" x1="1522.4" x2="1522.4" y1="805.2" y2="809.7"/>
<text class="ax" text-anchor="middle" transform="matrix(1,0.0005,0,1,1522.4,824.1)">sr</text>
<text class="tt" text-anchor="middle" transform="translate(1403.2,615.45) rotate(-90)">Relative Abundance</text>
<text class="tg" transform="matrix(0.93,0.0005,0,1,1384.17,441.1)">I</text>
<text class="tt" transform="matrix(1,0.0005,0,1,1576.95,458.6)">Species</text>
<rect x="1578.35" y="471.25" width="26.5" height="26.5" fill="#8DD3C7"/>
<text class="lg" transform="matrix(1,0.0005,0,1,1615.25,490.15)">Bilophila wadsworthia</text>
<rect x="1578.35" y="500.22" width="26.5" height="26.5" fill="#FFFFB3"/>
<text class="lg" transform="matrix(1,0.0005,0,1,1615.25,519.12)">Oscillibacter sp.</text>
<rect x="1578.35" y="529.19" width="26.5" height="26.5" fill="#BEBADA"/>
<text class="lg" transform="matrix(1,0.0005,0,1,1615.25,548.09)">Firmicutes bacterium CAG:124</text>
<rect x="1578.35" y="558.16" width="26.5" height="26.5" fill="#FB8072"/>
<text class="lg" transform="matrix(1,0.0005,0,1,1615.25,577.06)">Bacteroides uniformis</text>
<rect x="1578.35" y="587.13" width="26.5" height="26.5" fill="#80B1D3"/>
<text class="lg" transform="matrix(1,0.0005,0,1,1615.25,606.03)">Clostridiales bacterium</text>
<rect x="1578.35" y="616.1" width="26.5" height="26.5" fill="#FDB462"/>
<text class="lg" transform="matrix(1,0.0005,0,1,1615.25,635)">Prevotella copri</text>
<rect x="1578.35" y="645.07" width="26.5" height="26.5" fill="#B3DE69"/>
<text class="lg" transform="matrix(1,0.0005,0,1,1615.25,663.97)">Faecalibacterium prausnitzii</text>
<rect x="1578.35" y="674.04" width="26.5" height="26.5" fill="#FCCDE5"/>
<text class="lg" transform="matrix(1,0.0005,0,1,1615.25,692.94)">Alistipes putredinis</text>
<rect x="1578.35" y="703.01" width="26.5" height="26.5" fill="#D9D9D9"/>
<text class="lg" transform="matrix(1,0.0005,0,1,1615.25,721.91)">Phascolarctobacterium faecium</text>
<rect x="1578.35" y="731.98" width="26.5" height="26.5" fill="#BC80BD"/>
<text class="lg" transform="matrix(1,0.0005,0,1,1615.25,750.88)">Akkermansia muciniphila</text>
<rect x="1578.35" y="760.95" width="26.5" height="26.5" fill="#CCEBC5"/>
<text class="lg" transform="matrix(1,0.0005,0,1,1615.25,779.85)">Low Abundance, Classified</text>
</g>
<g id="panel-J">
<rect x="1912.2" y="425.7" width="114.9" height="379.5" fill="#EBEBEB"/>
<line class="gm" x1="1912.2" x2="2027.1" y1="745.23" y2="745.23"/>
<line class="gm" x1="1912.2" x2="2027.1" y1="658.89" y2="658.89"/>
<line class="gm" x1="1912.2" x2="2027.1" y1="572.56" y2="572.56"/>
<line class="gm" x1="1912.2" x2="2027.1" y1="486.22" y2="486.22"/>
<line class="gM" x1="1912.2" x2="2027.1" y1="788.4" y2="788.4"/>
<line class="gM" x1="1912.2" x2="2027.1" y1="702.06" y2="702.06"/>
<line class="gM" x1="1912.2" x2="2027.1" y1="615.73" y2="615.73"/>
<line class="gM" x1="1912.2" x2="2027.1" y1="529.39" y2="529.39"/>
<line class="gM" x1="1912.2" x2="2027.1" y1="443.05" y2="443.05"/>
<line class="gM" x1="1943.54" x2="1943.54" y1="425.7" y2="805.2"/>
<line class="gM" x1="1995.76" x2="1995.76" y1="425.7" y2="805.2"/>
<rect x="1920.03" y="443.05" width="47" height="3.85" fill="#8DD3C7"/>
<rect x="1920.03" y="446.6" width="47" height="18.8" fill="#FFFFB3"/>
<rect x="1920.03" y="465.1" width="47" height="5.4" fill="#BEBADA"/>
<rect x="1920.03" y="470.2" width="47" height="6.45" fill="#FB8072"/>
<rect x="1920.03" y="476.35" width="47" height="8.25" fill="#80B1D3"/>
<rect x="1920.03" y="484.3" width="47" height="11.7" fill="#FDB462"/>
<rect x="1920.03" y="495.7" width="47" height="14.7" fill="#B3DE69"/>
<rect x="1920.03" y="510.1" width="47" height="13.7" fill="#FCCDE5"/>
<rect x="1920.03" y="523.5" width="47" height="17.7" fill="#D9D9D9"/>
<rect x="1920.03" y="540.9" width="47" height="24.3" fill="#BC80BD"/>
<rect x="1920.03" y="564.9" width="47" height="223.5" fill="#CCEBC5"/>
<rect x="1972.26" y="443.05" width="47" height="6.45" fill="#8DD3C7"/>
<rect x="1972.26" y="449.2" width="47" height="6.45" fill="#FFFFB3"/>
<rect x="1972.26" y="455.35" width="47" height="5.15" fill="#BEBADA"/>
<rect x="1972.26" y="460.2" width="47" height="10.2" fill="#FB8072"/>
<rect x="1972.26" y="470.1" width="47" height="12.55" fill="#80B1D3"/>
<rect x="1972.26" y="482.35" width="47" height="12.3" fill="#FDB462"/>
<rect x="1972.26" y="494.35" width="47" height="13.15" fill="#B3DE69"/>
<rect x="1972.26" y="507.2" width="47" height="15.3" fill="#FCCDE5"/>
<rect x="1972.26" y="522.2" width="47" height="18.8" fill="#D9D9D9"/>
<rect x="1972.26" y="540.7" width="47" height="28.35" fill="#BC80BD"/>
<rect x="1972.26" y="568.75" width="47" height="219.65" fill="#CCEBC5"/>
<line class="tk" x1="1907.7" x2="1912.2" y1="788.4" y2="788.4"/>
<text class="ax" text-anchor="end" transform="matrix(1,0.0005,0,1,1903.4,794.05)">0.00</text>
<line class="tk" x1="1907.7" x2="1912.2" y1="702.06" y2="702.06"/>
<text class="ax" text-anchor="end" transform="matrix(1,0.0005,0,1,1903.4,707.71)">0.25</text>
<line class="tk" x1="1907.7" x2="1912.2" y1="615.73" y2="615.73"/>
<text class="ax" text-anchor="end" transform="matrix(1,0.0005,0,1,1903.4,621.38)">0.50</text>
<line class="tk" x1="1907.7" x2="1912.2" y1="529.39" y2="529.39"/>
<text class="ax" text-anchor="end" transform="matrix(1,0.0005,0,1,1903.4,535.04)">0.75</text>
<line class="tk" x1="1907.7" x2="1912.2" y1="443.05" y2="443.05"/>
<text class="ax" text-anchor="end" transform="matrix(1,0.0005,0,1,1903.4,448.7)">1.00</text>
<line class="tk" x1="1943.54" x2="1943.54" y1="805.2" y2="809.7"/>
<text class="ax" text-anchor="middle" transform="matrix(1,0.0005,0,1,1943.54,824.1)">hmw</text>
<line class="tk" x1="1995.76" x2="1995.76" y1="805.2" y2="809.7"/>
<text class="ax" text-anchor="middle" transform="matrix(1,0.0005,0,1,1995.76,824.1)">sr</text>
<text class="tt" text-anchor="middle" transform="translate(1865.4,615.45) rotate(-90)">Relative Abundance</text>
<text class="tg" transform="matrix(0.93,0.0005,0,1,1850,441.1)">J</text>
<text class="tt" transform="matrix(1,0.0005,0,1,2054.5,458.6)">Species</text>
<rect x="2055.9" y="471.25" width="26.5" height="26.5" fill="#8DD3C7"/>
<text class="lg" transform="matrix(1,0.0005,0,1,2092.8,490.15)">Prevotella sp.</text>
<rect x="2055.9" y="500.22" width="26.5" height="26.5" fill="#FFFFB3"/>
<text class="lg" transform="matrix(1,0.0005,0,1,2092.8,519.12)">[Eubacterium] rectale</text>
<rect x="2055.9" y="529.19" width="26.5" height="26.5" fill="#BEBADA"/>
<text class="lg" transform="matrix(1,0.0005,0,1,2092.8,548.09)">Bacteroides ovatus</text>
<rect x="2055.9" y="558.16" width="26.5" height="26.5" fill="#FB8072"/>
<text class="lg" transform="matrix(1,0.0005,0,1,2092.8,577.06)">Alistipes sp.</text>
<rect x="2055.9" y="587.13" width="26.5" height="26.5" fill="#80B1D3"/>
<text class="lg" transform="matrix(1,0.0005,0,1,2092.8,606.03)">Clostridiales bacterium</text>
<rect x="2055.9" y="616.1" width="26.5" height="26.5" fill="#FDB462"/>
<text class="lg" transform="matrix(1,0.0005,0,1,2092.8,635)">Ruminococcaceae bacterium</text>
<rect x="2055.9" y="645.07" width="26.5" height="26.5" fill="#B3DE69"/>
<text class="lg" transform="matrix(1,0.0005,0,1,2092.8,663.97)">Akkermansia muciniphila</text>
<rect x="2055.9" y="674.04" width="26.5" height="26.5" fill="#FCCDE5"/>
<text class="lg" transform="matrix(1,0.0005,0,1,2092.8,692.94)">Oscillibacter sp.</text>
<rect x="2055.9" y="703.01" width="26.5" height="26.5" fill="#D9D9D9"/>
<text class="lg" transform="matrix(1,0.0005,0,1,2092.8,721.91)">Bacteroides vulgatus</text>
<rect x="2055.9" y="731.98" width="26.5" height="26.5" fill="#BC80BD"/>
<text class="lg" transform="matrix(1,0.0005,0,1,2092.8,750.88)">Alistipes sp. CAG:435</text>
<rect x="2055.9" y="760.95" width="26.5" height="26.5" fill="#CCEBC5"/>
<text class="lg" transform="matrix(1,0.0005,0,1,2092.8,779.85)">Low Abundance, Classified</text>
</g>
</svg></body></html>
